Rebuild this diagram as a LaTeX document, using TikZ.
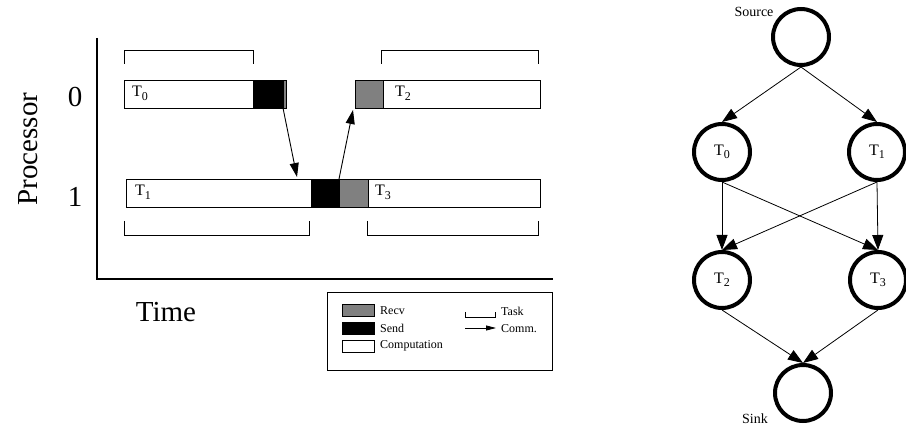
\documentclass[tikz,border=0pt]{standalone}
\usepackage{fontspec}
\setmainfont{Liberation Serif}
\usetikzlibrary{arrows.meta,calc}

% task name with a lowered index, e.g. T_0
\newcommand{\tname}[1]{T\raisebox{-3.5pt}{\fontsize{12}{12}\selectfont #1}}

\begin{document}
\begin{tikzpicture}[x=1pt,y=-1pt,
  bar/.style={draw,line width=0.8pt,minimum height=28pt,inner sep=0pt,outer sep=0pt,anchor=north west},
  comp/.style={bar,fill=white},
  sendbox/.style={bar,fill=black},
  recvbox/.style={bar,fill=gray},
  bracket/.style={line width=0.8pt},
  comm/.style={line width=0.9pt,-{Triangle[length=14pt,width=9pt]}},
  tlabel/.style={font=\fontsize{16}{16}\selectfont,anchor=base west,inner sep=0pt},
  biglabel/.style={font=\fontsize{29}{32}\selectfont,inner sep=0pt},
  legtext/.style={font=\fontsize{12}{12}\selectfont,anchor=west,inner sep=0pt},
  task/.style={circle,draw,line width=4pt,minimum size=56pt,inner sep=0pt,font=\fontsize{16}{16}\selectfont},
  dep/.style={line width=0.8pt,-{Triangle[length=15pt,width=11pt]}}]

\useasboundingbox (0,0) rectangle (906,430);

% ---------------- schedule (left) ----------------
\draw[line width=2pt] (97,38) -- (97,279) -- (553,279);

\node[biglabel,rotate=90,anchor=base] (proc) at (37,149) {Processor};
\node[biglabel,anchor=base] (p0) at (75,107) {0};
\node[biglabel,anchor=base] (p1) at (75,207) {1};
\node[biglabel,anchor=base] (time) at (166,322) {Time};

% processor 0
\node[comp,minimum width=129pt] (c0) at (124,80) {};
\node[sendbox,minimum width=30pt] (s0) at (253,80) {};
\node[recvbox,minimum width=3pt] (g0) at (283,80) {};
\node[recvbox,minimum width=28pt] (r2) at (355,80) {};
\node[comp,minimum width=157pt] (c2) at (383,80) {};
\node[tlabel] (l0) at (132,97) {\tname{0}};
\node[tlabel] (l2) at (395,97) {\tname{2}};

% processor 1
\node[comp,minimum width=185pt] (c1) at (126,179) {};
\node[sendbox,minimum width=28pt] (s1) at (311,179) {};
\node[recvbox,minimum width=29pt] (r3) at (339,179) {};
\node[comp,minimum width=172pt] (c3) at (368,179) {};
\node[tlabel] (l1) at (135,196) {\tname{1}};
\node[tlabel] (l3) at (375,196) {\tname{3}};

% task extents
\draw[bracket] (124,64) -- (124,50) -- (253,50) -- (253,64);
\draw[bracket] (381,64) -- (381,50) -- (538,50) -- (538,64);
\draw[bracket] (124,221) -- (124,235) -- (309,235) -- (309,221);
\draw[bracket] (367,221) -- (367,235) -- (538,235) -- (538,221);

% communications
\coordinate (m1) at (297,177);
\coordinate (m2) at (353,110);
\draw[comm] (s0.south east) -- (m1);
\draw[comm] (s1.north east) -- (m2);

% legend
\node[draw,line width=0.8pt,minimum width=225pt,minimum height=78pt,anchor=north west,inner sep=0pt] (leg) at (327,292) {};
\node[draw,fill=gray,line width=0.8pt,minimum width=32pt,minimum height=12pt,anchor=north west,inner sep=0pt] (kr) at (342,304) {};
\node[draw,fill=black,line width=0.8pt,minimum width=32pt,minimum height=12pt,anchor=north west,inner sep=0pt] (ks) at (342,322) {};
\node[draw,fill=white,line width=0.8pt,minimum width=32pt,minimum height=12pt,anchor=north west,inner sep=0pt] (kc) at (342,340) {};
\node[legtext] (tr) at (380,311) {Recv};
\node[legtext] (ts) at (380,328) {Send};
\node[legtext] (tc) at (380,346) {Computation};
\coordinate (kb1) at (465,312);
\coordinate (kb2) at (495,312);
\draw[bracket] (kb1) -- ++(0,5) -| (kb2);
\node[legtext] (tt) at (501,311) {Task};
\coordinate (ka1) at (465,328);
\coordinate (ka2) at (496,328);
\draw[line width=0.8pt,-{Triangle[length=10pt,width=5pt]}] (ka1) -- (ka2);
\node[legtext] (tm) at (501,329) {Comm.};

% ---------------- task graph (right) ----------------
\node[task] (src) at (801,37) {};
\node[task] (n0) at (722,152) {\tname{0}};
\node[task] (n1) at (877,152) {\tname{1}};
\node[task] (n2) at (722,280) {\tname{2}};
\node[task] (n3) at (878,280) {\tname{3}};
\node[task] (snk) at (803,393) {};
\node[font=\fontsize{14}{14}\selectfont,inner sep=0pt] (srcl) at (754,12) {Source};
\node[font=\fontsize{14}{14}\selectfont,inner sep=0pt] (snkl) at (755,419) {Sink};

\draw[dep] (src.south) -- (n0.north);
\draw[dep] (src.south) -- (n1.north);
\draw[dep] (n0.south) -- (n2.north);
\draw[dep] (n0.south) -- (n3.north);
\draw[dep] (n1.south) -- (n2.north);
\draw[dep] (n1.south) -- (n3.north);
\draw[dep] (n2.south) -- (snk.north);
\draw[dep] (n3.south) -- (snk.north);
\end{tikzpicture}
\end{document}
